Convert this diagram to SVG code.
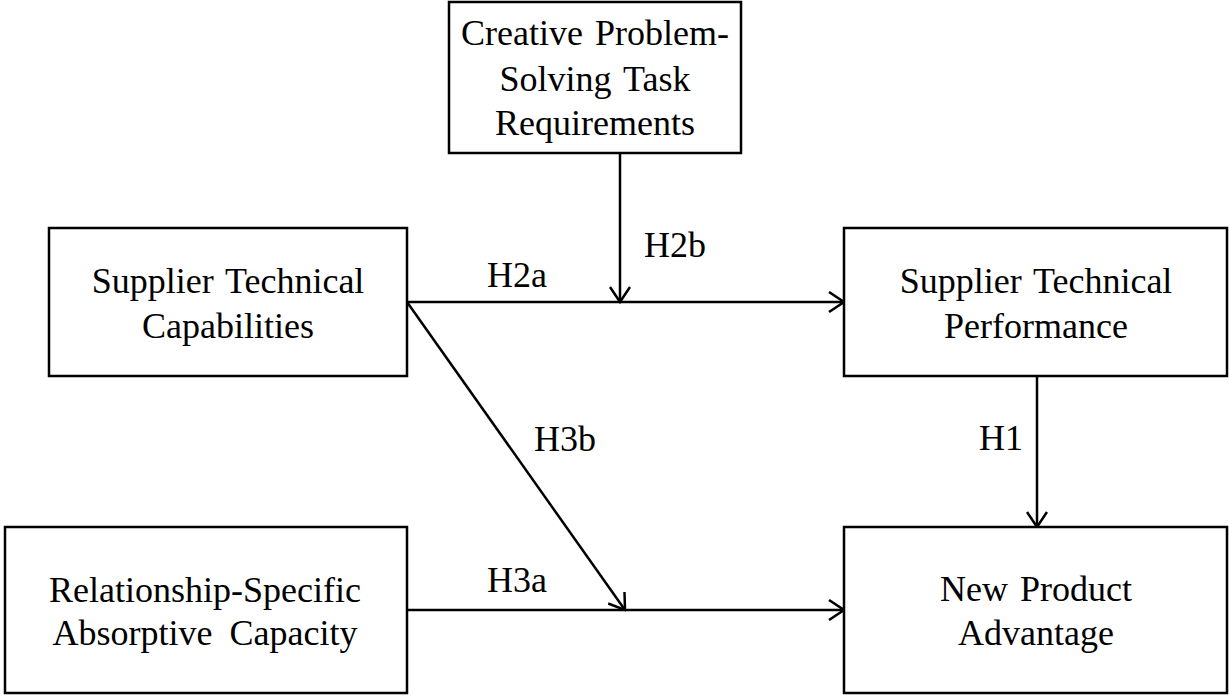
<svg xmlns="http://www.w3.org/2000/svg" width="1229" height="696" viewBox="0 0 1229 696">
<style>
.box{fill:#fff;stroke:#000;stroke-width:2.5}
.t{font-family:"Liberation Serif","Times New Roman",serif;font-size:36px;fill:#000;text-anchor:middle;word-spacing:3px}
.c{fill:none;stroke:#000;stroke-width:2.5}
</style>
<defs>
<marker id="ah" viewBox="-16 -11 18 22" refX="0" refY="0" markerWidth="18" markerHeight="22" markerUnits="userSpaceOnUse" orient="auto">
<path d="M-15,-10 L0,0 L-15,10" fill="none" stroke="#000" stroke-width="2.5"/>
</marker>
</defs>
<rect width="1229" height="696" fill="#fff"/>
<g id="connectors">
<line class="c" x1="620" y1="153" x2="620" y2="302" marker-end="url(#ah)"/>
<line class="c" x1="407" y1="302" x2="844" y2="302" marker-end="url(#ah)"/>
<line class="c" x1="407" y1="302" x2="625" y2="610" marker-end="url(#ah)"/>
<line class="c" x1="407" y1="610" x2="844" y2="610" marker-end="url(#ah)"/>
<line class="c" x1="1037" y1="376" x2="1037" y2="527" marker-end="url(#ah)"/>
<text class="t" x="517" y="287">H2a</text>
<text class="t" x="675" y="257">H2b</text>
<text class="t" x="565" y="451">H3b</text>
<text class="t" x="1001" y="450">H1</text>
<text class="t" x="517" y="592">H3a</text>
</g>
<g id="creative">
<rect class="box" x="449" y="2" width="292" height="151"/>
<text class="t" x="595" y="45">Creative Problem-</text>
<text class="t" x="595" y="91">Solving Task</text>
<text class="t" x="595" y="135">Requirements</text>
</g>
<g id="capabilities">
<rect class="box" x="49" y="228" width="358" height="148"/>
<text class="t" x="228" y="293">Supplier Technical</text>
<text class="t" x="228" y="338">Capabilities</text>
</g>
<g id="performance">
<rect class="box" x="844" y="228" width="383" height="148"/>
<text class="t" x="1036" y="293">Supplier Technical</text>
<text class="t" x="1036" y="338">Performance</text>
</g>
<g id="absorptive">
<rect class="box" x="5" y="527" width="402" height="166"/>
<text class="t" x="205" y="602">Relationship-Specific</text>
<text class="t" x="205" y="645" style="word-spacing:8px">Absorptive Capacity</text>
</g>
<g id="advantage">
<rect class="box" x="844" y="527" width="383" height="166"/>
<text class="t" x="1036" y="601">New Product</text>
<text class="t" x="1036" y="645">Advantage</text>
</g>
</svg>
